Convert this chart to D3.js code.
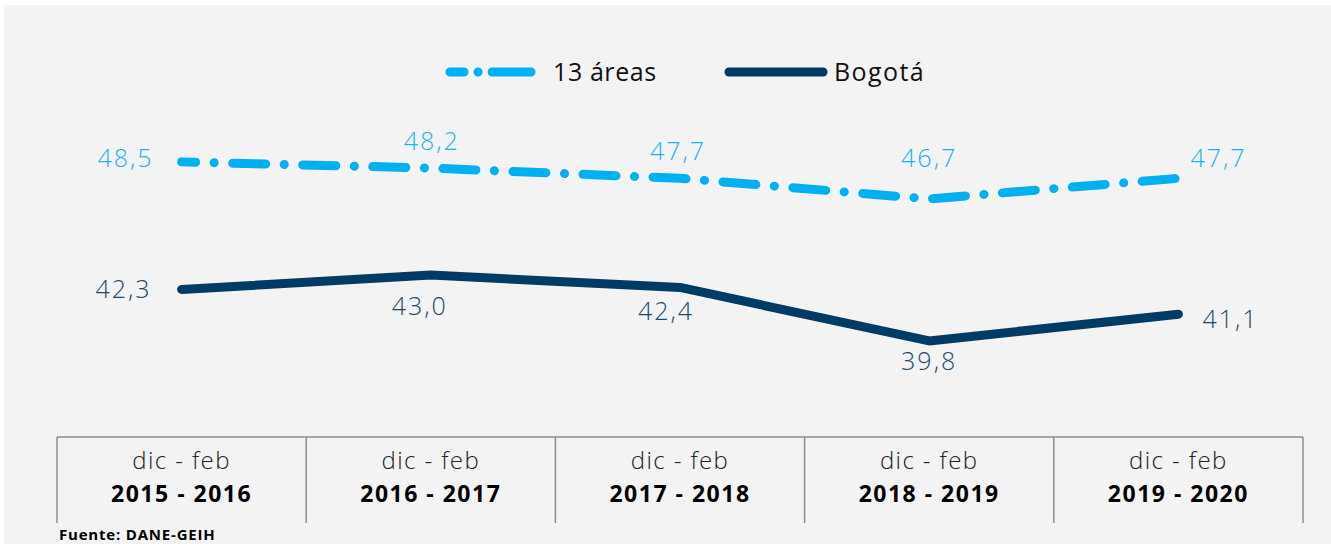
<!DOCTYPE html>
<html>
<head>
<meta charset="utf-8">
<script src="https://cdn.jsdelivr.net/npm/d3@7"></script>
<style>
  body { margin: 0; background: #fff; }
  text { font-family: "Open Sans", "Noto Sans", sans-serif; }
</style>
</head>
<body>
<div id="chart"></div>
<script>
// data
var periods = ["2015 - 2016", "2016 - 2017", "2017 - 2018", "2018 - 2019", "2019 - 2020"];
var periodTop = "dic - feb";
var areas13 = [48.5, 48.2, 47.7, 46.7, 47.7];
var bogota = [42.3, 43.0, 42.4, 39.8, 41.1];
var seriesNames = ["13 áreas", "Bogotá"];

var width = 1331, height = 544;
var light = "#00b0f0", dark = "#003b64";

var svg = d3.select("#chart").append("svg")
  .attr("width", width)
  .attr("height", height);

// background panel
svg.append("rect")
  .attr("x", 4).attr("y", 5)
  .attr("width", width - 4).attr("height", height - 5)
  .attr("fill", "#f3f3f3");

var x = d3.scaleBand()
  .domain(periods)
  .range([57, 1303]);

var y = d3.scaleLinear()
  .domain([38, 50])
  .range([378, 131]);

function cx(i) { return x(periods[i]) + x.bandwidth() / 2; }

// category box
var axisTop = 437, axisBottom = 523;
svg.append("line")
  .attr("x1", 57).attr("x2", 1303)
  .attr("y1", axisTop).attr("y2", axisTop)
  .attr("stroke", "#8c8c8c").attr("stroke-width", 1.5);

var edges = periods.map(function(p) { return x(p); }).concat([x.range()[1]]);
svg.selectAll(".divider")
  .data(edges)
  .enter().append("line")
  .attr("class", "divider")
  .attr("x1", function(d) { return d; }).attr("x2", function(d) { return d; })
  .attr("y1", axisTop).attr("y2", axisBottom)
  .attr("stroke", "#8c8c8c").attr("stroke-width", 1.5);

var cat = svg.selectAll(".cat")
  .data(periods)
  .enter().append("g")
  .attr("class", "cat")
  .attr("transform", function(d) { return "translate(" + (x(d) + x.bandwidth() / 2) + ",0)"; });

cat.append("text")
  .attr("y", 469)
  .attr("text-anchor", "middle")
  .attr("font-size", 24)
  .attr("font-weight", 300)
  .attr("letter-spacing", 1.4)
  .attr("fill", "#222")
  .text(periodTop);

cat.append("text")
  .attr("y", 502)
  .attr("text-anchor", "middle")
  .attr("font-size", 23)
  .attr("font-weight", 700)
  .attr("letter-spacing", 1.5)
  .attr("fill", "#000")
  .text(function(d) { return d; });

// lines
var line = d3.line()
  .x(function(d, i) { return cx(i); })
  .y(function(d) { return y(d); });

svg.append("path")
  .datum(bogota)
  .attr("d", line)
  .attr("fill", "none")
  .attr("stroke", dark)
  .attr("stroke-width", 9)
  .attr("stroke-linecap", "round")
  .attr("stroke-linejoin", "round");

svg.append("path")
  .datum(areas13)
  .attr("d", line)
  .attr("fill", "none")
  .attr("stroke", light)
  .attr("stroke-width", 9)
  .attr("stroke-linecap", "round")
  .attr("stroke-dasharray", "33,18.5,0.1,18.5")
  .attr("stroke-dashoffset", 19);

// value labels
function fmt(v) { return v.toFixed(1).replace(".", ","); }

var lightPos = [[-28, 5, "end"], [1, -18, "middle"], [-2, -18, "middle"], [0, -32, "middle"], [12, -11, "start"]];
var darkPos = [[-30, 9, "end"], [-11, 40, "middle"], [-14, 33, "middle"], [0, 29, "middle"], [24, 14, "start"]];

svg.selectAll(".lab13")
  .data(areas13)
  .enter().append("text")
  .attr("class", "lab13")
  .attr("x", function(d, i) { return cx(i) + lightPos[i][0]; })
  .attr("y", function(d, i) { return y(d) + lightPos[i][1]; })
  .attr("text-anchor", function(d, i) { return lightPos[i][2]; })
  .attr("font-size", 25)
  .attr("font-weight", 300)
  .attr("letter-spacing", 2)
  .attr("fill", "#1fb1ec")
  .text(fmt);

svg.selectAll(".labBog")
  .data(bogota)
  .enter().append("text")
  .attr("class", "labBog")
  .attr("x", function(d, i) { return cx(i) + darkPos[i][0]; })
  .attr("y", function(d, i) { return y(d) + darkPos[i][1]; })
  .attr("text-anchor", function(d, i) { return darkPos[i][2]; })
  .attr("font-size", 25)
  .attr("font-weight", 300)
  .attr("letter-spacing", 2)
  .attr("fill", "#1d4a6e")
  .text(fmt);

// legend
svg.append("line")
  .attr("x1", 450).attr("x2", 531)
  .attr("y1", 72).attr("y2", 72)
  .attr("stroke", light).attr("stroke-width", 9)
  .attr("stroke-linecap", "round")
  .attr("stroke-dasharray", "14,14,0.1,14,40");
svg.append("text")
  .attr("x", 553).attr("y", 81)
  .attr("font-size", 25)
  .attr("letter-spacing", 0.6)
  .attr("fill", "#111")
  .text(seriesNames[0]);

svg.append("line")
  .attr("x1", 729).attr("x2", 823)
  .attr("y1", 72).attr("y2", 72)
  .attr("stroke", dark).attr("stroke-width", 9)
  .attr("stroke-linecap", "round");
svg.append("text")
  .attr("x", 834).attr("y", 81)
  .attr("font-size", 25)
  .attr("letter-spacing", 1.4)
  .attr("fill", "#111")
  .text(seriesNames[1]);

// source
svg.append("text")
  .attr("x", 59).attr("y", 540)
  .attr("font-size", 15)
  .attr("font-weight", 700)
  .attr("letter-spacing", 0.8)
  .attr("fill", "#000")
  .text("Fuente: DANE-GEIH");
</script>
</body>
</html>
